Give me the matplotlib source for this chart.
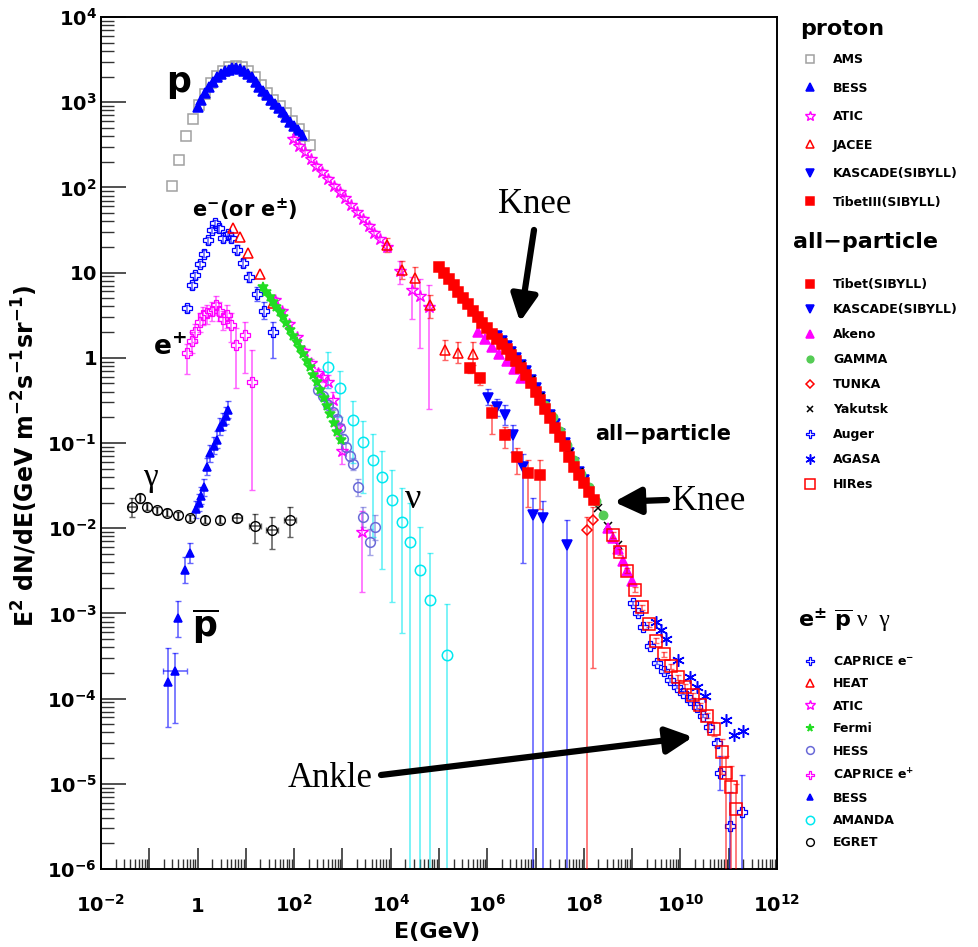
"""Spectre des rayons cosmiques : E^2 dN/dE en fonction de E"""
import numpy as np
import matplotlib.pyplot as plt
from matplotlib.ticker import LogLocator, NullFormatter

plt.rcParams['font.family'] = ['DejaVu Sans']
plt.rcParams['mathtext.default'] = 'bf'

# Valeurs, en log10(E/GeV) et log10(E^2 dN/dE)
# ---- protons
ams_logE = [-0.54, -0.39, -0.23, -0.09, 0.03, 0.15, 0.27, 0.40, 0.53, 0.66, 0.79, 0.92,
            1.05, 1.18, 1.31, 1.44, 1.57, 1.70, 1.83, 1.96, 2.09, 2.21, 2.33]
ams_logF = [2.02, 2.32, 2.60, 2.80, 2.97, 3.10, 3.22, 3.31, 3.37, 3.41, 3.43, 3.41,
            3.37, 3.29, 3.20, 3.11, 3.03, 2.95, 2.87, 2.78, 2.69, 2.60, 2.50]

bess_p_logE = [0.00, 0.08, 0.16, 0.24, 0.32, 0.40, 0.48, 0.56, 0.64, 0.72, 0.80, 0.88, 0.96, 1.04,
               1.12, 1.20, 1.28, 1.36, 1.44, 1.52, 1.60, 1.68, 1.76, 1.84, 1.92, 2.00, 2.08, 2.16]
bess_p_logF = [2.94, 3.03, 3.11, 3.18, 3.24, 3.29, 3.33, 3.36, 3.38, 3.40, 3.40, 3.39, 3.37, 3.33,
               3.29, 3.24, 3.18, 3.13, 3.08, 3.03, 2.98, 2.93, 2.88, 2.83, 2.77, 2.72, 2.67, 2.61]

atic_p_logE = [1.98, 2.10, 2.22, 2.34, 2.46, 2.58, 2.70, 2.82, 2.94, 3.06, 3.18, 3.30, 3.42,
               3.54, 3.66, 3.78, 3.92, 4.20, 4.45, 4.60, 4.80]
atic_p_logF = [2.57, 2.49, 2.41, 2.33, 2.25, 2.18, 2.10, 2.02, 1.95, 1.87, 1.79, 1.71, 1.63,
               1.55, 1.47, 1.39, 1.30, 1.02, 0.80, 0.72, 0.60]
atic_p_lo = [0.03, 0.03, 0.03, 0.03, 0.03, 0.03, 0.03, 0.03, 0.03, 0.03, 0.03, 0.03, 0.03,
             0.03, 0.03, 0.03, 0.05, 0.15, 0.35, 0.60, 1.20]
atic_p_hi = [0.03, 0.03, 0.03, 0.03, 0.03, 0.03, 0.03, 0.03, 0.03, 0.03, 0.03, 0.03, 0.03,
             0.03, 0.03, 0.03, 0.05, 0.12, 0.15, 0.20, 0.25]

jacee_logE = [3.92, 4.23, 4.50, 4.81, 5.12, 5.39, 5.70]
jacee_logF = [1.32, 1.03, 0.94, 0.62, 0.09, 0.06, 0.04]
jacee_lo = [0.08, 0.10, 0.12, 0.15, 0.12, 0.12, 0.13]
jacee_hi = [0.08, 0.10, 0.12, 0.12, 0.12, 0.12, 0.15]

kascade_p_logE = [6.01, 6.20, 6.37, 6.53, 6.74, 6.95, 7.15, 7.65]
kascade_p_logF = [-0.47, -0.58, -0.67, -0.91, -1.28, -1.85, -1.88, -2.20]
kascade_p_lo = [0.08, 0.10, 0.12, 0.20, 1.13, 8, 8, 8]
kascade_p_hi = [0.10, 0.10, 0.12, 0.12, 0.15, 0.20, 0.20, 0.30]

tibet3_p_logE = [5.64, 5.85, 6.10, 6.37, 6.61, 6.84, 7.09]
tibet3_p_logF = [-0.12, -0.24, -0.65, -0.91, -1.16, -1.35, -1.38]
tibet3_p_lo = [0.06, 0.08, 0.25, 0.15, 0.20, 0.40, 0.40]
tibet3_p_hi = [0.06, 0.06, 0.10, 0.10, 0.10, 0.15, 0.18]

# ---- toutes particules
tibet_logE = [5.0, 5.1, 5.2, 5.3, 5.4, 5.5, 5.6, 5.7, 5.8, 5.9, 6.0, 6.1, 6.2, 6.3, 6.4, 6.5, 6.6,
              6.7, 6.8, 6.9, 7.0, 7.1, 7.2, 7.3, 7.4, 7.5, 7.6, 7.7, 7.8, 7.9, 8.0, 8.1, 8.2]
tibet_logF = [1.07, 0.99, 0.92, 0.85, 0.77, 0.70, 0.63, 0.55, 0.48, 0.41, 0.35, 0.28, 0.22, 0.16,
              0.10, 0.03, -0.04, -0.12, -0.20, -0.30, -0.40, -0.50, -0.60, -0.71, -0.82, -0.93,
              -1.04, -1.16, -1.28, -1.38, -1.47, -1.57, -1.67]

kascade_logE = [6.2, 6.3, 6.4, 6.5, 6.6, 6.7, 6.8, 6.9, 7.0, 7.1, 7.2, 7.3, 7.4, 7.5, 7.6, 7.7,
                7.8, 7.9, 8.0]
kascade_logF = [0.26, 0.20, 0.14, 0.07, 0.00, -0.08, -0.16, -0.26, -0.36, -0.46, -0.56, -0.67,
                -0.78, -0.89, -1.00, -1.12, -1.24, -1.34, -1.43]

akeno_logE = [5.8, 5.95, 6.1, 6.25, 6.4, 6.55, 6.7, 8.5, 8.6, 8.7, 8.8, 8.9, 9.0]
akeno_logF = [0.30, 0.22, 0.13, 0.04, -0.04, -0.13, -0.24, -2.00, -2.12, -2.25, -2.38, -2.50, -2.62]

gamma_logE = [7.2, 7.35, 7.5, 7.65, 7.8, 7.95, 8.1, 8.25, 8.4]
gamma_logF = [-0.55, -0.70, -0.86, -1.02, -1.20, -1.36, -1.52, -1.68, -1.84]

tunka_logE = [8.06, 8.19]
tunka_logF = [-2.02, -1.90]
tunka_lo = [8, 1.74]
tunka_hi = [0.15, 0.15]

yakutsk_logE = [6.3, 6.5, 6.7, 6.9, 7.1, 7.3, 7.5, 7.7, 7.9, 8.1, 8.3, 8.5, 8.7]
yakutsk_logF = [0.18, 0.06, -0.08, -0.26, -0.46, -0.68, -0.89, -1.12, -1.34, -1.54, -1.76, -1.98, -2.20]

auger_logE = [9.02, 9.12, 9.22, 9.37, 9.51, 9.65, 9.78, 9.92, 10.05, 10.2, 10.34, 10.47, 10.6,
              10.75, 10.82, 11.03, 11.27]
auger_logF = [-2.88, -3.00, -3.16, -3.38, -3.58, -3.68, -3.78, -3.86, -3.93, -4.02, -4.10, -4.20,
              -4.33, -4.52, -4.87, -5.50, -5.33]
auger_lo = [0.02, 0.02, 0.02, 0.02, 0.02, 0.02, 0.02, 0.02, 0.02, 0.02, 0.02, 0.02, 0.03,
            0.05, 0.20, 8, 8]
auger_hi = [0.02, 0.02, 0.02, 0.02, 0.02, 0.02, 0.02, 0.02, 0.02, 0.02, 0.02, 0.02, 0.03,
            0.05, 0.20, 0.40, 0.43]

agasa_logE = [9.5, 9.6, 9.7, 9.95, 10.2, 10.35, 10.5, 10.95, 11.1, 11.3]
agasa_logF = [-3.10, -3.20, -3.30, -3.55, -3.75, -3.86, -3.97, -4.25, -4.43, -4.38]

hires_logE = [8.6, 8.75, 8.9, 9.05, 9.2, 9.35, 9.5, 9.65, 9.8, 9.95, 10.1, 10.25, 10.4, 10.55,
              10.7, 10.85, 10.95, 11.05, 11.15]
hires_logF = [-2.08, -2.28, -2.50, -2.72, -2.93, -3.13, -3.32, -3.48, -3.62, -3.75, -3.86, -3.96,
              -4.08, -4.20, -4.36, -4.63, -4.87, -5.04, -5.30]
hires_lo = [0.03, 0.03, 0.03, 0.03, 0.03, 0.03, 0.03, 0.03, 0.03, 0.03, 0.03, 0.03, 0.03, 0.03,
            0.08, 0.25, 8, 8, 8]
hires_hi = [0.03, 0.03, 0.03, 0.03, 0.03, 0.03, 0.03, 0.03, 0.03, 0.03, 0.03, 0.03, 0.03, 0.03,
            0.08, 0.15, 0.20, 0.25, 0.30]

# ---- e+-, antiprotons, neutrinos, gamma
caprice_em_logE = [-0.22, -0.12, -0.05, 0.05, 0.13, 0.22, 0.30, 0.37, 0.45, 0.53, 0.62, 0.70,
                   0.82, 0.95, 1.07, 1.23, 1.38, 1.56]
caprice_em_logF = [0.58, 0.85, 0.97, 1.10, 1.22, 1.38, 1.50, 1.58, 1.52, 1.40, 1.45, 1.40,
                   1.27, 1.11, 0.95, 0.75, 0.55, 0.30]
caprice_em_lo = [0.04, 0.04, 0.04, 0.04, 0.04, 0.04, 0.04, 0.04, 0.04, 0.04, 0.04, 0.04,
                 0.05, 0.05, 0.06, 0.08, 0.10, 0.30]
caprice_em_hi = [0.04, 0.04, 0.04, 0.04, 0.04, 0.04, 0.04, 0.04, 0.04, 0.04, 0.04, 0.04,
                 0.05, 0.05, 0.06, 0.08, 0.10, 0.12]

heat_logE = [0.74, 0.88, 1.05, 1.30, 1.56]
heat_logF = [1.52, 1.42, 1.23, 0.98, 0.64]

atic_e_logE = [1.60, 1.75, 1.90, 2.05, 2.20, 2.35, 2.50, 2.60, 2.70, 2.80, 2.90, 3.00, 3.40]
atic_e_logF = [0.68, 0.55, 0.40, 0.24, 0.08, -0.06, -0.18, -0.22, -0.28, -0.50, -0.80, -1.10, -2.05]
atic_e_lo = [0.03, 0.03, 0.03, 0.03, 0.03, 0.04, 0.05, 0.06, 0.08, 0.10, 0.12, 0.15, 0.70]
atic_e_hi = [0.03, 0.03, 0.03, 0.03, 0.03, 0.04, 0.05, 0.06, 0.08, 0.10, 0.12, 0.15, 0.25]

fermi_logE = [1.35, 1.42, 1.49, 1.56, 1.63, 1.70, 1.77, 1.84, 1.91, 1.98, 2.05, 2.12, 2.19, 2.26,
              2.33, 2.40, 2.47, 2.54, 2.61, 2.68, 2.75, 2.82, 2.89, 2.96]
fermi_logF = [0.83, 0.77, 0.71, 0.66, 0.60, 0.54, 0.48, 0.41, 0.33, 0.26, 0.18, 0.11, 0.04, -0.04,
              -0.11, -0.20, -0.29, -0.38, -0.47, -0.57, -0.66, -0.77, -0.87, -0.97]

hess_logE = [2.50, 2.60, 2.70, 2.80, 2.88, 2.95, 3.02, 3.08, 3.15, 3.22, 3.33, 3.43, 3.57, 3.67]
hess_logF = [-0.38, -0.45, -0.55, -0.64, -0.72, -0.83, -0.95, -1.05, -1.15, -1.25, -1.52, -1.87,
             -2.16, -1.99]
hess_lo = [0.03, 0.03, 0.03, 0.03, 0.04, 0.04, 0.05, 0.05, 0.06, 0.07, 0.10, 0.12, 0.15, 0.15]
hess_hi = [0.03, 0.03, 0.03, 0.03, 0.04, 0.04, 0.05, 0.05, 0.06, 0.07, 0.10, 0.12, 0.15, 0.15]

caprice_ep_logE = [-0.22, -0.12, -0.05, 0.05, 0.12, 0.20, 0.30, 0.38, 0.45, 0.52, 0.60, 0.70,
                   0.80, 0.98, 1.13]
caprice_ep_logF = [0.06, 0.20, 0.30, 0.42, 0.50, 0.52, 0.55, 0.62, 0.55, 0.45, 0.50, 0.38,
                   0.15, 0.27, -0.28]
caprice_ep_lo = [0.25, 0.15, 0.12, 0.12, 0.12, 0.12, 0.12, 0.12, 0.12, 0.12, 0.15, 0.20,
                 0.50, 0.45, 1.27]
caprice_ep_hi = [0.10, 0.10, 0.10, 0.10, 0.10, 0.10, 0.10, 0.10, 0.10, 0.10, 0.12, 0.15,
                 0.20, 0.15, 0.37]

bess_pbar_logE = [-0.61, -0.47, -0.41, -0.26, -0.16, -0.03, 0.02, 0.08, 0.13, 0.19, 0.26, 0.33,
                  0.40, 0.46, 0.53, 0.58, 0.63]
bess_pbar_logF = [-3.81, -3.68, -3.05, -2.49, -2.29, -1.78, -1.70, -1.62, -1.52, -1.28, -1.12,
                  -1.03, -0.96, -0.81, -0.75, -0.68, -0.61]
bess_pbar_lo = [0.52, 0.61, 0.23, 0.15, 0.12, 0.10, 0.10, 0.10, 0.10, 0.10, 0.10, 0.10,
                0.10, 0.10, 0.10, 0.10, 0.10]
bess_pbar_hi = [0.40, 0.22, 0.20, 0.15, 0.12, 0.10, 0.10, 0.10, 0.10, 0.10, 0.10, 0.10,
                0.10, 0.10, 0.10, 0.10, 0.10]
bess_pbar_xerr = [0.0, 0.25, 0.0, 0.0, 0.0, 0.0, 0.0, 0.0, 0.0, 0.0, 0.0, 0.0, 0.0, 0.0, 0.0, 0.0, 0.0]

amanda_logE = [2.70, 2.95, 3.22, 3.43, 3.63, 3.82, 4.03, 4.23, 4.40, 4.61, 4.81, 5.17]
amanda_logF = [-0.11, -0.35, -0.73, -0.99, -1.20, -1.40, -1.67, -1.93, -2.16, -2.49, -2.84, -3.49]
amanda_lo = [0.25, 0.35, 0.50, 0.60, 0.90, 1.08, 1.20, 1.30, 8, 8, 8, 8]
amanda_hi = [0.18, 0.20, 0.22, 0.25, 0.30, 0.30, 0.35, 0.40, 0.45, 0.50, 0.55, 0.60]

egret_logE = [-1.36, -1.19, -1.04, -0.84, -0.63, -0.41, -0.16, 0.15, 0.46, 0.82, 1.19, 1.54, 1.91]
egret_logF = [-1.75, -1.65, -1.75, -1.79, -1.82, -1.85, -1.88, -1.90, -1.90, -1.88, -1.98, -2.02, -1.90]
egret_lo = [0.12, 0.05, 0.04, 0.04, 0.04, 0.04, 0.04, 0.04, 0.04, 0.05, 0.20, 0.22, 0.20]
egret_hi = [0.10, 0.05, 0.04, 0.04, 0.04, 0.04, 0.04, 0.04, 0.04, 0.05, 0.15, 0.15, 0.15]
egret_xerr = [0.08, 0.0, 0.0, 0.0, 0.0, 0.0, 0.0, 0.0, 0.0, 0.1, 0.12, 0.12, 0.12]

BLEU, ROUGE, MAGENTA = '#0000ff', '#ff0000', '#ff00ff'

fig = plt.figure(figsize=(9.79, 9.47), dpi=100)
ax = fig.add_axes([0.1032, 0.0824, 0.6905, 0.8997])
ax.set_xscale('log')
ax.set_yscale('log')
ax.set_xlim(1e-2, 1e12)
ax.set_ylim(1e-6, 1e4)


def serie(logE, logF, marker, color, ms, label, filled=False, lo=None, hi=None, xerr=None,
          mew=1.1, z=3):
    """Trace une série (marqueurs + barres d'erreur éventuelles), renvoie la ligne pour la légende"""
    lE, lF = np.array(logE), np.array(logF)
    E, F = 10 ** lE, 10 ** lF
    if lo is not None:
        yerr = [F - 10 ** (lF - np.array(lo)), 10 ** (lF + np.array(hi)) - F]
        xe = None
        if xerr is not None:
            dx = np.array(xerr)
            xe = [E - 10 ** (lE - dx), 10 ** (lE + dx) - E]
        ax.errorbar(E, F, yerr=yerr, xerr=xe, fmt='none', ecolor=color, elinewidth=1.2,
                    capsize=2.5, capthick=1.0, alpha=0.6, zorder=z - 1)
    ligne, = ax.plot(E, F, linestyle='none', marker=marker, ms=ms, mec=color,
                     mfc=color if filled else 'none', mew=mew, label=label, zorder=z)
    return ligne


# protons
h_ams = serie(ams_logE, ams_logF, 's', '#a0a0a0', 6.5, 'AMS')
h_bess = serie(bess_p_logE, bess_p_logF, '^', BLEU, 6.5, 'BESS', filled=True)
h_atic = serie(atic_p_logE, atic_p_logF, '*', MAGENTA, 9, 'ATIC', lo=atic_p_lo, hi=atic_p_hi, mew=1.0)
h_jacee = serie(jacee_logE, jacee_logF, '^', ROUGE, 7.5, 'JACEE', lo=jacee_lo, hi=jacee_hi)
h_kasp = serie(kascade_p_logE, kascade_p_logF, 'v', BLEU, 7, 'KASCADE(SIBYLL)', filled=True,
               lo=kascade_p_lo, hi=kascade_p_hi)
h_tib3 = serie(tibet3_p_logE, tibet3_p_logF, 's', ROUGE, 7.5, 'TibetIII(SIBYLL)', filled=True,
               lo=tibet3_p_lo, hi=tibet3_p_hi)

# toutes particules
h_kas = serie(kascade_logE, kascade_logF, 'v', BLEU, 6.5, 'KASCADE(SIBYLL)', filled=True, z=3)
h_yak = serie(yakutsk_logE, yakutsk_logF, 'x', 'black', 6, 'Yakutsk', z=3)
h_gam = serie(gamma_logE, gamma_logF, 'o', '#55cc55', 6, 'GAMMA', filled=True, z=3)
h_ake = serie(akeno_logE, akeno_logF, '^', MAGENTA, 6.5, 'Akeno', filled=True, z=3)
h_tib = serie(tibet_logE, tibet_logF, 's', ROUGE, 7.5, 'Tibet(SIBYLL)', filled=True, z=4)
h_tun = serie(tunka_logE, tunka_logF, 'D', ROUGE, 5.5, 'TUNKA', lo=tunka_lo, hi=tunka_hi, z=4)
h_aug = serie(auger_logE, auger_logF, 'P', BLEU, 7.5, 'Auger', lo=auger_lo, hi=auger_hi, z=4, mew=0.9)
h_aga = serie(agasa_logE, agasa_logF, (6, 2, 0), BLEU, 9, 'AGASA', z=4)
h_hir = serie(hires_logE, hires_logF, 's', ROUGE, 9, 'HIRes', lo=hires_lo, hi=hires_hi, z=5)

# e+-, pbar, nu, gamma
h_cem = serie(caprice_em_logE, caprice_em_logF, 'P', BLEU, 7.5, 'CAPRICE e$^{-}$',
              lo=caprice_em_lo, hi=caprice_em_hi, mew=0.9)
h_heat = serie(heat_logE, heat_logF, '^', ROUGE, 7.5, 'HEAT')
h_atice = serie(atic_e_logE, atic_e_logF, '*', MAGENTA, 9, 'ATIC', lo=atic_e_lo, hi=atic_e_hi, mew=1.0)
h_fer = serie(fermi_logE, fermi_logF, '*', '#22dd22', 7, 'Fermi', filled=True, z=4)
h_hess = serie(hess_logE, hess_logF, 'o', '#6a6ad8', 7, 'HESS', lo=hess_lo, hi=hess_hi)
h_cep = serie(caprice_ep_logE, caprice_ep_logF, 'P', MAGENTA, 7.5, 'CAPRICE e$^{+}$',
              lo=caprice_ep_lo, hi=caprice_ep_hi, mew=0.9)
h_pbar = serie(bess_pbar_logE, bess_pbar_logF, '^', BLEU, 6, 'BESS', filled=True,
               lo=bess_pbar_lo, hi=bess_pbar_hi, xerr=bess_pbar_xerr)
h_ama = serie(amanda_logE, amanda_logF, 'o', '#00e8f0', 7.5, 'AMANDA', lo=amanda_lo, hi=amanda_hi)
h_egr = serie(egret_logE, egret_logF, 'o', 'black', 7, 'EGRET', lo=egret_lo, hi=egret_hi,
              xerr=egret_xerr, mew=1.0)

# axes façon ROOT
for s in ax.spines.values():
    s.set_linewidth(1.4)
ax.set_xticks([10.0 ** k for k in range(-2, 13)])
ax.set_xticklabels(['$10^{-2}$', '', '$1$', '', '$10^{2}$', '', '$10^{4}$', '', '$10^{6}$', '',
                    '$10^{8}$', '', '$10^{10}$', '', '$10^{12}$'], va='baseline')
ax.set_yticks([10.0 ** k for k in range(-6, 5)])
ax.set_yticklabels(['$10^{-6}$', '$10^{-5}$', '$10^{-4}$', '$10^{-3}$', '$10^{-2}$', '$10^{-1}$',
                    '$1$', '$10$', '$10^{2}$', '$10^{3}$', '$10^{4}$'])
ax.xaxis.set_minor_locator(LogLocator(base=10, subs=range(2, 10), numticks=100))
ax.yaxis.set_minor_locator(LogLocator(base=10, subs=range(2, 10), numticks=100))
ax.xaxis.set_minor_formatter(NullFormatter())
ax.yaxis.set_minor_formatter(NullFormatter())
ax.tick_params(which='both', direction='in', top=False, right=False, colors='#333333',
               labelcolor='black', labelsize=14)
ax.tick_params(axis='y', which='major', length=18, width=1.2, pad=3)
ax.tick_params(axis='y', which='minor', length=9.5, width=1.0)
ax.tick_params(axis='x', which='major', length=15, width=1.2, pad=31)
ax.tick_params(axis='x', which='minor', length=7, width=1.0)

ax.set_xlabel('E(GeV)', fontsize=16, fontweight='bold', va='top')
ax.xaxis.set_label_coords(0.497, -0.062)
ax.set_ylabel(r'E$^{2}$ dN/dE(GeV m$^{-2}$s$^{-1}$sr$^{-1}$)', fontsize=17, fontweight='bold')
ax.yaxis.set_label_coords(-0.09, 0.485)

# étiquettes dans le graphique
ax.text(0.115, 0.912, 'p', transform=ax.transAxes, fontsize=25, fontweight='bold', ha='center', va='baseline')
ax.text(0.1346, 0.765, 'e$^{-}$(or e$^{\\pm}$)', transform=ax.transAxes, fontsize=15,
        fontweight='bold', ha='left', va='baseline')
ax.text(0.077, 0.603, 'e$^{+}$', transform=ax.transAxes, fontsize=19, fontweight='bold', ha='left', va='baseline')
ax.text(0.0725, 0.4495, 'γ', transform=ax.transAxes, fontsize=24, family='Liberation Serif',
        ha='center', va='baseline')
ax.text(0.155, 0.2735, r'$\overline{\mathbf{p}}$', transform=ax.transAxes, fontsize=25,
        ha='center', va='baseline')
ax.text(0.4615, 0.4237, 'ν', transform=ax.transAxes, fontsize=26, family='Liberation Serif',
        ha='center', va='baseline')
ax.text(0.7308, 0.5035, 'all\u2212particle', transform=ax.transAxes, fontsize=15,
        fontweight='bold', ha='left', va='baseline')

fleche = dict(arrowstyle='-|>,head_length=0.8,head_width=0.4', lw=4.5, color='black',
              shrinkA=0, shrinkB=0, mutation_scale=20)
ax.text(0.642, 0.770, 'Knee', transform=ax.transAxes, fontsize=25, family='Liberation Serif',
        ha='center', va='baseline')
ax.annotate('', xy=(0.6198, 0.642), xytext=(0.6405, 0.750), xycoords='axes fraction',
            textcoords='axes fraction', arrowprops=fleche)
ax.text(0.8987, 0.4214, 'Knee', transform=ax.transAxes, fontsize=25, family='Liberation Serif',
        ha='center', va='baseline')
ax.annotate('', xy=(0.7589, 0.4308), xytext=(0.8373, 0.4331), xycoords='axes fraction',
            textcoords='axes fraction', arrowprops=fleche)
ax.text(0.3388, 0.0962, 'Ankle', transform=ax.transAxes, fontsize=25, family='Liberation Serif',
        ha='center', va='baseline')
ax.annotate('', xy=(0.8757, 0.1549), xytext=(0.4142, 0.1103), xycoords='axes fraction',
            textcoords='axes fraction', arrowprops=fleche)

# légende à droite, en trois blocs
fig.text(0.8172, 0.9694, 'proton', fontsize=16, fontweight='bold', ha='left', va='center')
fig.text(0.810, 0.7445, 'all\u2212particle', fontsize=16, fontweight='bold', ha='left', va='center')
fig.text(0.815, 0.3453, r'e$^{\pm}$ $\overline{\mathbf{p}}$', fontsize=16, fontweight='bold',
         ha='left', va='center')
fig.text(0.875, 0.3453, 'ν  γ', fontsize=17, family='Liberation Serif', ha='left', va='center')

blocs = [([h_ams, h_bess, h_atic, h_jacee, h_kasp, h_tib3], 0.944, 1.24),
         ([h_tib, h_kas, h_ake, h_gam, h_tun, h_yak, h_aug, h_aga, h_hir], 0.7064, 0.96),
         ([h_cem, h_heat, h_atice, h_fer, h_hess, h_cep, h_pbar, h_ama, h_egr], 0.3083, 0.75)]
for poignees, haut, espace in blocs:
    leg = fig.legend(handles=poignees, labels=[h.get_label() for h in poignees], loc='upper left',
                     bbox_to_anchor=(0.8178, haut), frameon=False, prop={'weight': 'bold', 'size': 9},
                     labelspacing=espace, handlelength=1.5, handletextpad=1.09, borderpad=0,
                     borderaxespad=0, numpoints=1, markerscale=0.8)

fig.savefig('out.png', dpi=100)
plt.close(fig)
